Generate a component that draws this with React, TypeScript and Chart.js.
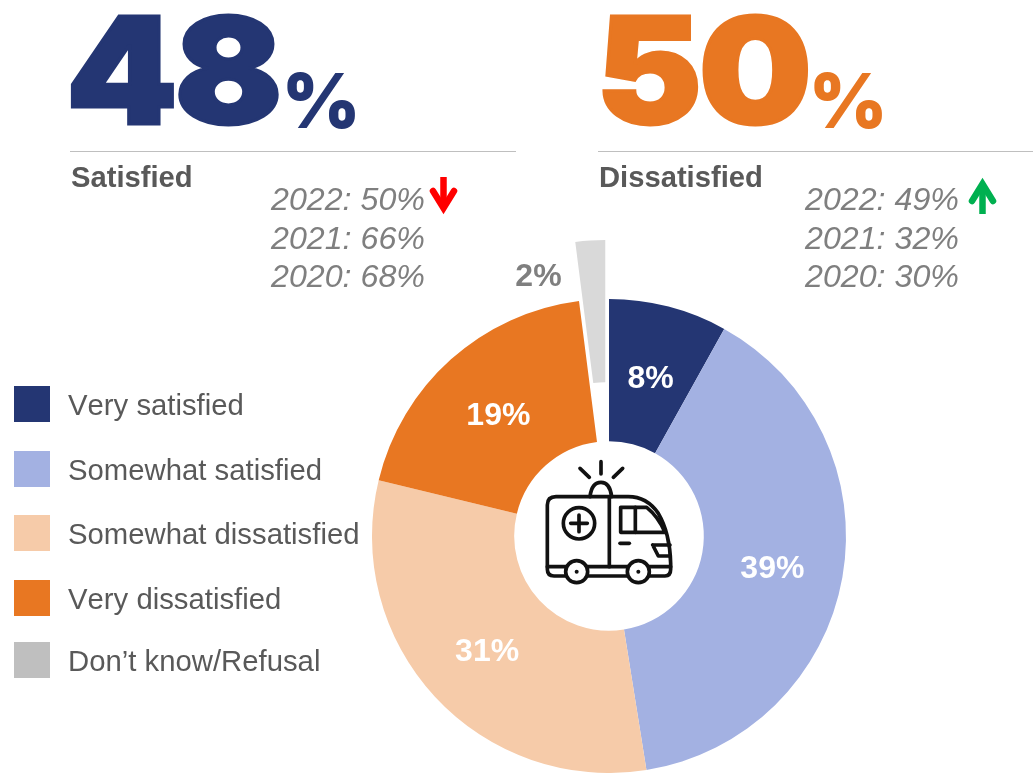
import React, { useEffect, useRef } from "react";
import { Chart, registerables } from "chart.js";

Chart.register(...registerables);

const categories = ["Very satisfied", "Somewhat satisfied", "Somewhat dissatisfied", "Very dissatisfied", "Don\u2019t know/Refusal"];
const values = [8, 39, 31, 19, 2];
const sliceColors = ["#243673", "#A3B1E2", "#F6CBA9", "#E87722", "#D9D9D9"];
const legendColors = ["#243673", "#A3B1E2", "#F6CBA9", "#E87722", "#BFBFBF"];
const legendTops = [386, 451, 515, 580, 642];
const satisfiedHistory = ["2022: 50%", "2021: 66%", "2020: 68%"];
const dissatisfiedHistory = ["2022: 49%", "2021: 32%", "2020: 30%"];

const SANS = '"Liberation Sans", Arial, sans-serif';
const EXPLODED_INDEX = 4;
const EXPLODE = 59;

const abs = (left: number, top: number, extra: React.CSSProperties = {}): React.CSSProperties => ({
  position: "absolute",
  left,
  top,
  whiteSpace: "nowrap",
  fontFamily: SANS,
  ...extra,
});

// Moves the exploded arc along its mid-angle without changing its radii or its angular width.
const explodePlugin = {
  id: "explodeSlice",
  afterDatasetUpdate(chart: any) {
    const arc = chart.getDatasetMeta(0).data[EXPLODED_INDEX];
    if (!arc || arc.__wrapped) return;
    const draw = arc.draw;
    arc.__wrapped = true;
    arc.draw = function (ctx: CanvasRenderingContext2D) {
      const mid = (this.startAngle + this.endAngle) / 2;
      ctx.save();
      ctx.translate(Math.cos(mid) * EXPLODE, Math.sin(mid) * EXPLODE);
      draw.call(this, ctx);
      ctx.restore();
    };
  },
};

const labelPlugin = {
  id: "sliceLabels",
  afterDatasetsDraw(chart: any) {
    const ctx = chart.ctx;
    const meta = chart.getDatasetMeta(0);
    ctx.save();
    ctx.font = `bold 32px ${SANS}`;
    ctx.textAlign = "center";
    ctx.textBaseline = "middle";
    meta.data.forEach((arc: any, i: number) => {
      const p = arc.getCenterPoint();
      const outside = i === EXPLODED_INDEX;
      ctx.fillStyle = outside ? "#7F7F7F" : "#FFFFFF";
      const x = outside ? p.x - 60 : p.x;
      const y = outside ? p.y - 97 : p.y;
      ctx.fillText(`${values[i]}%`, x, y + 4);
    });
    ctx.restore();
  },
};

function BigNumber({ left, value, color, pctLeft }: { left: number; value: string; color: string; pctLeft: number }) {
  return (
    <>
      <div
        style={abs(left, -29, {
          font: `900 148px Inter`,
          color,
          WebkitTextStroke: `3px ${color}`,
          letterSpacing: -3,
          lineHeight: "200px",
          transform: "scaleX(1.075)",
          transformOrigin: "left center",
        })}
      >
        {value}
      </div>
      <div
        style={abs(pctLeft, 51, {
          font: `900 75px Inter`,
          color,
          lineHeight: "100px",
        })}
      >
        %
      </div>
    </>
  );
}

function History({ left, lines }: { left: number; lines: string[] }) {
  return (
    <>
      {lines.map((t, i) => (
        <div
          key={t}
          style={abs(left, 181 + i * 38.7, {
            fontSize: 32.2,
            fontStyle: "italic",
            color: "#7F7F7F",
            lineHeight: "37px",
          })}
        >
          {t}
        </div>
      ))}
    </>
  );
}

function Ambulance() {
  const s = { fill: "none", stroke: "#111111", strokeWidth: 11, strokeLinecap: "round", strokeLinejoin: "round" } as const;
  return (
    <svg width={160} height={140} viewBox="0 0 480 420" style={{ position: "absolute", left: 530, top: 450 }}>
      <g {...s}>
        <path d="M213 35V72M150 55L178 82M278 55L250 82" />
        <path d="M180 140Q185 97 213 97Q240 97 245 140" />
        <path d="M105 378H72Q52 378 52 358V165Q52 140 78 140H295Q350 140 385 190Q420 250 422 340V358Q422 378 405 378H360" />
        <path d="M52 350H422M165 378H295" />
        <path d="M238 140V350" />
        <circle cx={147} cy={220} r={47} />
        <path d="M147 195V245M122 220H172" />
        <path d="M272 172H350Q385 200 405 247H272Z" />
        <path d="M316 172V247" />
        <path d="M270 280H298" />
        <path d="M368 285H420M368 285L385 318H420" />
        <circle cx={140} cy={365} r={33} fill="#FFFFFF" />
        <circle cx={325} cy={365} r={33} fill="#FFFFFF" />
      </g>
      <circle cx={140} cy={365} r={6} fill="#111111" />
      <circle cx={325} cy={365} r={6} fill="#111111" />
    </svg>
  );
}

export default function App() {
  const canvasRef = useRef<HTMLCanvasElement>(null);

  useEffect(() => {
    const chart = new Chart(canvasRef.current!, {
      type: "doughnut",
      data: {
        labels: categories,
        datasets: [
          {
            data: values,
            backgroundColor: sliceColors,
            borderWidth: 0,
            hoverOffset: 0,
            clip: false,
          } as any,
        ],
      },
      options: {
        responsive: false,
        animation: false,
        cutout: "40%",
        layout: { padding: { left: 372, right: 187, top: 299, bottom: 0 } },
        plugins: { legend: { display: false }, tooltip: { enabled: false } },
      },
      plugins: [explodePlugin, labelPlugin],
    });
    return () => chart.destroy();
  }, []);

  return (
    <div style={{ position: "absolute", left: 0, top: 0, width: 1033, height: 773, overflow: "hidden", background: "#FFFFFF" }}>
      <canvas ref={canvasRef} width={1033} height={773} style={{ position: "absolute", left: 0, top: 0 }} />

      <BigNumber left={66} value="48" color="#243673" pctLeft={282} />
      <BigNumber left={596} value="50" color="#E87722" pctLeft={809} />

      <div style={{ position: "absolute", left: 70, top: 151, width: 446, height: 1, background: "#BFBFBF" }} />
      <div style={{ position: "absolute", left: 598, top: 151, width: 435, height: 1, background: "#BFBFBF" }} />

      <div style={abs(71, 161, { fontSize: 29.2, fontWeight: "bold", color: "#595959", lineHeight: "33px" })}>Satisfied</div>
      <div style={abs(599, 161, { fontSize: 29.2, fontWeight: "bold", color: "#595959", lineHeight: "33px" })}>Dissatisfied</div>

      <History left={271} lines={satisfiedHistory} />
      <History left={805} lines={dissatisfiedHistory} />

      <svg width={1033} height={240} style={{ position: "absolute", left: 0, top: 0 }}>
        <g fill="none" strokeWidth={6.5} strokeLinecap="round" strokeLinejoin="miter">
          <path d="M443.5 177V208" stroke="#FF0000" strokeLinecap="butt" />
          <path d="M433 191L443.5 208L454 191" stroke="#FF0000" />
          <path d="M982.5 214V184" stroke="#00B050" strokeLinecap="butt" />
          <path d="M972 201L982.5 184L993 201" stroke="#00B050" />
        </g>
      </svg>

      {categories.map((name, i) => (
        <React.Fragment key={name}>
          <div style={{ position: "absolute", left: 14, top: legendTops[i], width: 36, height: 36, background: legendColors[i] }} />
          <div style={abs(68, legendTops[i] + 1, { fontSize: 29.3, color: "#595959", lineHeight: "36px", fontKerning: "none" })}>{name}</div>
        </React.Fragment>
      ))}

      <Ambulance />
    </div>
  );
}
